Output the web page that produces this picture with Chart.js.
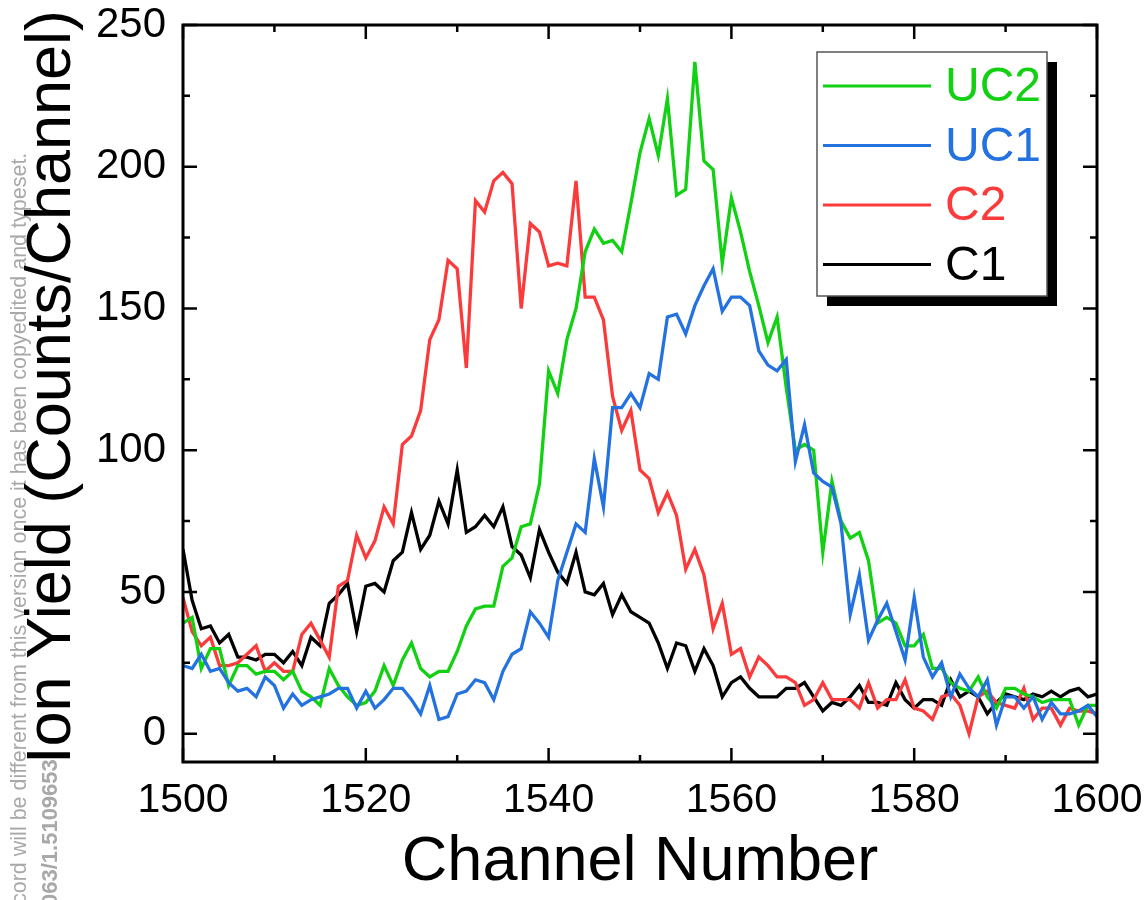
<!DOCTYPE html>
<html>
<head>
<meta charset="utf-8">
<title>Ion Yield vs Channel Number</title>
<script src="https://cdn.jsdelivr.net/npm/chart.js@4.4.1/dist/chart.umd.min.js"></script>
<style>
  body { margin: 0; background: #fff; }
  #wrap { width: 1145px; height: 900px; }
</style>
</head>
<body>
<div id="wrap"><canvas id="ionChart" width="1145" height="900"></canvas></div>
<script>
// channel axis
const firstChannel = 1500;
const xTicks = [1500, 1520, 1540, 1560, 1580, 1600];
const xMinorTicks = [1510, 1530, 1550, 1570, 1590];
const yTicks = [0, 50, 100, 150, 200, 250];
const yMinorTicks = [25, 75, 125, 175, 225];

const seriesNames = ['UC2', 'UC1', 'C2', 'C1'];
const seriesColors = ['#12d012', '#2372e0', '#fb3b3b', '#000000'];

// counts per channel, 1500 .. 1600
const uc2 = [39, 41, 23, 30, 30, 17, 24, 24, 21, 22,
             22, 19, 22, 15, 13, 10, 23, 17, 13, 10,
             11, 15, 24, 17, 26, 32, 23, 20, 22, 22,
             29, 38, 44, 45, 45, 59, 62, 73, 74, 88,
             128, 120, 139, 150, 170, 178, 173, 174, 170, 187,
             205, 217, 204, 224, 190, 192, 237, 202, 199, 166,
             189, 177, 163, 151, 138, 147, 122, 100, 102, 100,
             64, 89, 75, 69, 71, 61, 39, 41, 39, 31,
             31, 35, 23, 23, 18, 16, 15, 20, 13, 9,
             16, 16, 14, 13, 11, 12, 12, 12, 3, 10,
             10];
const uc1 = [24, 23, 28, 22, 23, 18, 15, 16, 13, 20,
             17, 9, 14, 10, 12, 13, 14, 16, 16, 9,
             15, 9, 12, 16, 16, 12, 7, 17, 5, 6,
             14, 15, 19, 18, 12, 22, 28, 30, 43, 39,
             34, 54, 64, 74, 71, 97, 80, 115, 115, 120,
             115, 127, 125, 147, 148, 141, 151, 158, 164, 149,
             154, 154, 151, 135, 130, 128, 132, 96, 109, 92,
             89, 87, 74, 42, 56, 33, 40, 46, 36, 26,
             48, 27, 20, 25, 13, 21, 16, 13, 19, 3,
             13, 13, 9, 13, 5, 11, 7, 7, 8, 10,
             6];
const c2 = [48, 36, 31, 34, 24, 24, 25, 28, 31, 22,
            25, 22, 22, 35, 39, 33, 27, 52, 54, 70,
            62, 68, 80, 74, 102, 105, 114, 139, 146, 167,
            164, 129, 188, 184, 195, 198, 194, 150, 180, 177,
            165, 166, 165, 195, 154, 154, 146, 119, 107, 114,
            93, 90, 78, 85, 77, 58, 65, 56, 37, 46,
            28, 30, 20, 27, 24, 20, 20, 18, 10, 12,
            18, 12, 12, 12, 9, 18, 9, 12, 12, 19,
            9, 8, 5, 13, 14, 10, 0, 13, 15, 11,
            10, 9, 16, 5, 9, 9, 3, 9, 8, 8,
            7];
const c1 = [65, 47, 37, 38, 32, 35, 27, 27, 26, 28,
            28, 25, 29, 24, 34, 31, 46, 49, 53, 36,
            52, 53, 50, 61, 64, 78, 65, 70, 82, 74,
            93, 71, 73, 77, 73, 80, 66, 63, 55, 72,
            64, 57, 53, 64, 50, 49, 53, 42, 49, 43,
            41, 39, 32, 23, 32, 31, 22, 30, 24, 13,
            18, 20, 16, 13, 13, 13, 16, 16, 18, 13,
            8, 11, 10, 13, 17, 11, 11, 10, 18, 12,
            9, 12, 12, 10, 19, 13, 15, 13, 7, 11,
            14, 13, 12, 14, 13, 15, 13, 15, 16, 13,
            14];

const seriesValues = [uc2, uc1, c2, c1];
const drawOrder = [1, 0, 2, 3];

const FONT = "'Liberation Sans', Arial, sans-serif";
const yTitle = 'Ion Yield (Counts/Channel)';

function toPoints(values) {
    return values.map((v, i) => ({ x: firstChannel + i, y: v }));
}

// grey side note under everything, then the rotated y title on top of it
const sideText = {
    id: 'sideText',
    beforeDraw(chart) {
        const ctx = chart.ctx;
        ctx.save();
        ctx.fillStyle = '#a8a8a8';
        ctx.textBaseline = 'middle';
        ctx.textAlign = 'left';
        ctx.translate(20, 904);
        ctx.rotate(-Math.PI / 2);
        ctx.font = '21.5px ' + FONT;
        ctx.fillText('cord will be different from this version once it has been copyedited and typeset.', 0, 0);
        ctx.restore();

        ctx.save();
        ctx.fillStyle = '#a8a8a8';
        ctx.textBaseline = 'middle';
        ctx.translate(51, 906);
        ctx.rotate(-Math.PI / 2);
        ctx.font = 'bold 22px ' + FONT;
        ctx.fillText('063/1.5109653', 0, 0);
        ctx.restore();

        ctx.save();
        ctx.fillStyle = '#000';
        ctx.textAlign = 'center';
        ctx.textBaseline = 'alphabetic';
        ctx.translate(70, 387);
        ctx.rotate(-Math.PI / 2);
        ctx.font = '63px ' + FONT;
        ctx.fillText(yTitle, 0, 0);
        ctx.restore();
    }
};

// boxed frame with inward ticks on all four sides
const frame = {
    id: 'frame',
    afterDatasetsDraw(chart) {
        const { ctx, chartArea: a, scales } = chart;
        const xs = scales.x, ys = scales.y;
        ctx.save();
        ctx.strokeStyle = '#000';
        ctx.lineWidth = 2.5;
        ctx.beginPath();
        const tick = (v, len, horiz) => {
            if (horiz) {
                const px = xs.getPixelForValue(v);
                ctx.moveTo(px, a.bottom); ctx.lineTo(px, a.bottom - len);
                ctx.moveTo(px, a.top); ctx.lineTo(px, a.top + len);
            } else {
                const py = ys.getPixelForValue(v);
                ctx.moveTo(a.left, py); ctx.lineTo(a.left + len, py);
                ctx.moveTo(a.right, py); ctx.lineTo(a.right - len, py);
            }
        };
        xTicks.forEach(v => tick(v, 14, true));
        xMinorTicks.forEach(v => tick(v, 7, true));
        yTicks.forEach(v => tick(v, 14, false));
        yMinorTicks.forEach(v => tick(v, 7, false));
        ctx.stroke();
        ctx.lineWidth = 3;
        ctx.strokeRect(a.left, a.top, a.right - a.left, a.bottom - a.top);
        ctx.restore();
    }
};

// legend box with a drop shadow
const legendBox = {
    id: 'legendBox',
    afterDraw(chart) {
        const ctx = chart.ctx;
        const bx = 817, by = 52, bw = 230, bh = 244;
        ctx.save();
        ctx.fillStyle = '#000';
        ctx.fillRect(bx + 10, by + 10, bw, bh);
        ctx.fillStyle = '#fff';
        ctx.fillRect(bx, by, bw, bh);
        ctx.strokeStyle = '#555';
        ctx.lineWidth = 1.5;
        ctx.strokeRect(bx, by, bw, bh);
        ctx.font = '48px ' + FONT;
        ctx.textBaseline = 'middle';
        ctx.textAlign = 'left';
        chart.data.datasets.forEach((ds, i) => {
            const ly = 86 + i * 59.5;
            ctx.strokeStyle = ds.borderColor;
            ctx.lineWidth = 3.2;
            ctx.beginPath();
            ctx.moveTo(823, ly);
            ctx.lineTo(931, ly);
            ctx.stroke();
            ctx.fillStyle = ds.borderColor;
            ctx.fillText(ds.label, 945, ly + 2);
        });
        ctx.restore();
    }
};

const ctx = document.getElementById('ionChart').getContext('2d');
new Chart(ctx, {
    type: 'line',
    data: {
        datasets: seriesNames.map((name, i) => ({
            label: name,
            data: toPoints(seriesValues[i]),
            borderColor: seriesColors[i],
            backgroundColor: seriesColors[i],
            borderWidth: 3.3,
            pointRadius: 0,
            tension: 0,
            order: drawOrder[i]
        }))
    },
    options: {
        responsive: false,
        animation: false,
        devicePixelRatio: 1,
        layout: { padding: { left: 0, top: 25, right: 48, bottom: 0 } },
        plugins: {
            legend: { display: false },
            tooltip: { enabled: false }
        },
        scales: {
            x: {
                type: 'linear',
                min: 1500,
                max: 1600,
                grid: { display: false, drawTicks: false },
                border: { display: false },
                afterBuildTicks: s => { s.ticks = xTicks.map(v => ({ value: v })); },
                afterFit: s => { s.height = 138; s.paddingLeft = 0; s.paddingRight = 0; },
                ticks: {
                    color: '#000',
                    padding: 14,
                    maxRotation: 0,
                    font: { family: FONT, size: 41 },
                    callback: v => String(v)
                },
                title: {
                    display: true,
                    text: 'Channel Number',
                    color: '#000',
                    font: { family: FONT, size: 63 },
                    padding: { top: 0, bottom: 0 }
                }
            },
            y: {
                min: -10,
                max: 250,
                grid: { display: false, drawTicks: false },
                border: { display: false },
                afterBuildTicks: s => { s.ticks = yTicks.map(v => ({ value: v })); },
                afterFit: s => { s.width = 183; s.paddingTop = 0; s.paddingBottom = 0; },
                ticks: {
                    color: '#000',
                    padding: 17,
                    font: { family: FONT, size: 42 },
                    callback: v => String(v)
                }
            }
        }
    },
    plugins: [sideText, frame, legendBox]
});
</script>
</body>
</html>
